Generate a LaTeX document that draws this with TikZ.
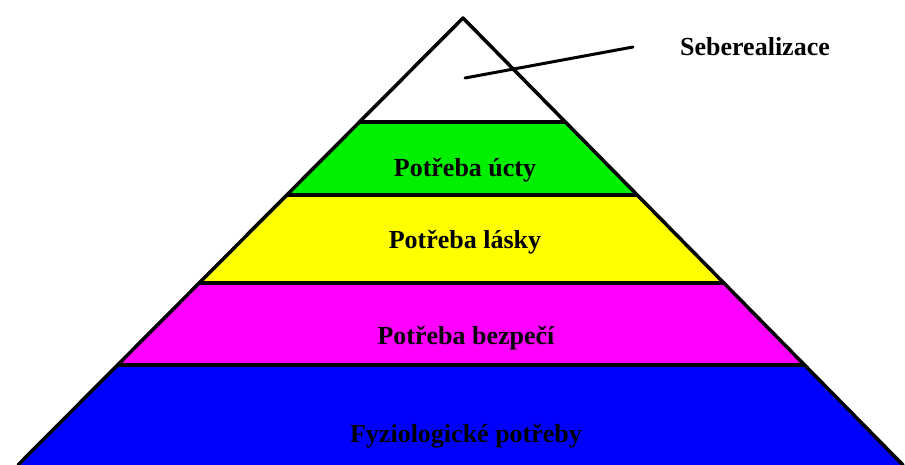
\documentclass[tikz,border=0pt]{standalone}
\usepackage{fontspec}
\setmainfont{Liberation Serif}
\usetikzlibrary{calc}
\definecolor{lvgreen}{RGB}{0,240,0}
\definecolor{lvyellow}{RGB}{255,255,0}
\definecolor{lvmag}{RGB}{255,0,255}
\definecolor{lvblue}{RGB}{0,0,255}
\tikzset{
  edge/.style={line width=3.5pt, line cap=round, line join=round, black},
  divider/.style={line width=3.5pt, black},
  lbl/.style={font=\fontsize{26}{30}\selectfont\bfseries, anchor=base, inner sep=0pt},
}
\begin{document}
\begin{tikzpicture}[x=1pt,y=-1pt]
\useasboundingbox (0,0) rectangle (905,465);
\coordinate (A) at (463,18);
\coordinate (BL) at (18,465);
\coordinate (BR) at (903,465);
\foreach \n/\t in {1/0.2327,2/0.3960,3/0.5928,4/0.7763}{
  \coordinate (L\n) at ($(A)!\t!(BL)$);
  \coordinate (R\n) at ($(A)!\t!(BR)$);
}
\begin{scope}
\clip (0,0) rectangle (905,465);
\fill[white] (A) -- (L1) -- (R1) -- cycle;
\fill[lvgreen] (L1) -- (L2) -- (R2) -- (R1) -- cycle;
\fill[lvyellow] (L2) -- (L3) -- (R3) -- (R2) -- cycle;
\fill[lvmag] (L3) -- (L4) -- (R4) -- (R3) -- cycle;
\fill[lvblue] (L4) -- (BL) -- (BR) -- (R4) -- cycle;
\draw[divider] (L1) -- (R1);
\draw[divider] (L2) -- (R2);
\draw[divider] (L3) -- (R3);
\draw[divider] (L4) -- (R4);
\draw[edge] (BL) -- (A) -- (BR);
\end{scope}
\coordinate (p1) at (465,78);
\coordinate (p2) at (633,47);
\draw[line width=3pt, line cap=round] (p1) -- (p2);
\node[lbl] (self) at (755,56) {Seberealizace};
\node[lbl] (esteem) at (465,177) {Potřeba úcty};
\node[lbl] (love) at (465,248) {Potřeba lásky};
\node[lbl] (safety) at (466,344) {Potřeba bezpečí};
\node[lbl] (phys) at (466,442) {Fyziologické potřeby};
\end{tikzpicture}
\end{document}
